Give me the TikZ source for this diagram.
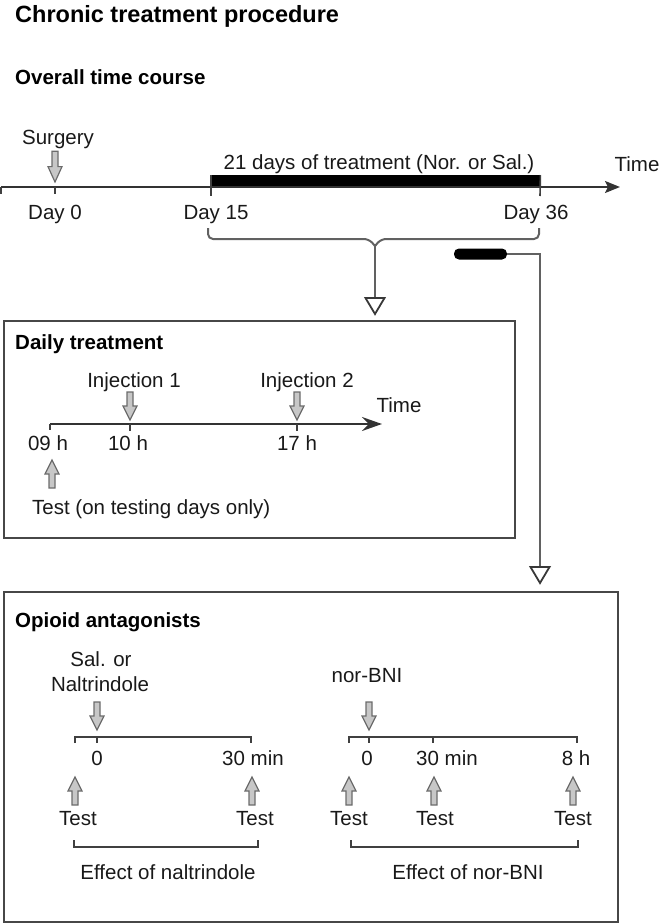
\documentclass[tikz,border=0pt]{standalone}
\usepackage{fontspec}
\setmainfont{Liberation Sans}
\usetikzlibrary{arrows.meta}
\begin{document}
\begin{tikzpicture}[x=1pt,y=-1pt,
  txt/.style={inner sep=0pt, text height=14.7pt, text depth=0pt, font=\fontsize{20.5}{24}\selectfont, text=black!90},
  ttl/.style={txt, font=\fontsize{20.5}{24}\selectfont\bfseries, anchor=west, text=black},
  axis/.style={line width=2pt, draw=black!80},
  tick/.style={line width=1.6pt, draw=black!75},
  frame/.style={line width=2.4pt, draw=black!72, inner sep=0pt, anchor=north west},
  link/.style={line width=2pt, draw=black!62},
  blackbar/.style={fill=black, inner sep=0pt},
  harrow/.pic={\filldraw[draw=black!58, fill=black!22, line width=1.2pt, line join=miter]
     (-3,-28) -- (3,-28) -- (3,-14) -- (7,-14) -- (0,0) -- (-7,-14) -- (-3,-14) -- cycle;},
  tri/.pic={\filldraw[draw=black!78, fill=white, line width=1.8pt, line join=miter]
     (-9.5,-16) -- (9.5,-16) -- (0,0) -- cycle;}
]
\useasboundingbox (0,0) rectangle (670,924);

% ---------- titles ----------
\node[ttl, text height=16.8pt, font=\fontsize{23.5}{27}\selectfont\bfseries] (title) at (15,14) {Chronic treatment procedure};
\node[ttl] (overall) at (15,77) {Overall time course};

% ---------- overall time course ----------
\coordinate (t0) at (1,187);
\coordinate (tend) at (620,187);
\node[blackbar, anchor=north west, minimum width=329pt, minimum height=12pt] (bar) at (211,175) {};
\draw[axis, -{Stealth[length=15pt,width=12pt,inset=3pt]}] (t0) -- (tend);
\draw[tick] (t0) -- ++(0,7);
\coordinate (sx) at (55,187);
\draw[tick] (sx) -- ++(0,7);
\draw[tick] (bar.north west) -- (211,196);
\draw[tick] (bar.north east) -- (540,196);

\node[txt] (surg) at (58,137) {Surgery};
\pic[yscale=1.1] at (55,182) {harrow};
\node[txt] (treat) at (379,162) {21 days of treatment (Nor. or Sal.)};
\node[txt] (time1) at (637,164) {Time};
\node[txt] (d0) at (55,212) {Day 0};
\node[txt] (d15) at (216,212) {Day 15};
\node[txt] (d36) at (536,212) {Day 36};

% brace to daily box
\coordinate (bl) at (208,228);
\coordinate (br) at (539,228);
\coordinate (btip) at (375,246);
\draw[link, rounded corners=5pt] (bl) -- (208,239) -- (369,239) -- (btip);
\draw[link, rounded corners=5pt] (br) -- (539,239) -- (381,239) -- (btip);
\coordinate (tri1) at (375,314);
\coordinate (tri1top) at (375,298);
\draw[link] (btip) -- (tri1top);
\pic at (tri1) {tri};

% small bar to opioid box
\node[blackbar, rounded corners=5pt, minimum width=53pt, minimum height=11pt] (bar2) at (480.5,254) {};
\coordinate (tri2) at (540,583);
\coordinate (tri2top) at (540,567);
\coordinate (corner2) at (540,254);
\draw[link] (bar2.east) -- (corner2) -- (tri2top);
\pic at (tri2) {tri};

% ---------- daily treatment ----------
\node[frame, minimum width=511pt, minimum height=217pt] (daily) at (3,320) {};
\node[ttl] (dtitle) at (15,342) {Daily treatment};
\node[txt] (inj1) at (134,380) {Injection 1};
\node[txt] (inj2) at (307,380) {Injection 2};
\pic at (130,420) {harrow};
\pic at (297,420) {harrow};
\coordinate (h0) at (50,424);
\coordinate (hend) at (382,424);
\draw[axis, -{Stealth[length=20pt,width=14pt,inset=7pt]}] (h0) -- (hend);
\draw[tick] (h0) -- ++(0,6);
\draw[tick] (130,424) -- ++(0,7);
\draw[tick] (297,424) -- ++(0,7);
\node[txt] (time2) at (399,405) {Time};
\node[txt] (h09) at (48,443) {09 h};
\node[txt] (h10) at (128,443) {10 h};
\node[txt] (h17) at (297,443) {17 h};
\pic[rotate=180] at (52,460) {harrow};
\node[txt, anchor=west] (testd) at (32,507) {Test (on testing days only)};

% ---------- opioid antagonists ----------
\node[frame, minimum width=614pt, minimum height=330pt] (opioid) at (3,591) {};
\node[ttl] (otitle) at (15,620) {Opioid antagonists};

% left experiment
\node[txt] (sal) at (101,659) {Sal. or};
\node[txt] (nal) at (100,684) {Naltrindole};
\pic at (97,730) {harrow};
\draw[tick] (75,743) -- (75,737) -- (251,737) -- (251,743);
\draw[tick] (97,737) -- (97,743);
\node[txt] (z1) at (97,758) {0};
\node[txt] (m30a) at (253,758) {30 min};
\pic[rotate=180] at (75,777) {harrow};
\pic[rotate=180] at (252,777) {harrow};
\node[txt] (ta1) at (78,818) {Test};
\node[txt] (ta2) at (255,818) {Test};
\draw[tick] (74,840) -- (74,847) -- (258,847) -- (258,840);
\node[txt] (effn) at (168,872) {Effect of naltrindole};

% right experiment
\node[txt] (nor) at (367,675) {nor-BNI};
\pic at (369,730) {harrow};
\draw[tick] (349,743) -- (349,737) -- (577,737) -- (577,743);
\draw[tick] (369,737) -- (369,743);
\draw[tick] (433,737) -- (433,743);
\node[txt] (z2) at (367,758) {0};
\node[txt] (m30b) at (447,758) {30 min};
\node[txt] (h8) at (576,758) {8 h};
\pic[rotate=180] at (349,777) {harrow};
\pic[rotate=180] at (434,777) {harrow};
\pic[rotate=180] at (573,777) {harrow};
\node[txt] (tb1) at (349,818) {Test};
\node[txt] (tb2) at (435,818) {Test};
\node[txt] (tb3) at (573,818) {Test};
\draw[tick] (351,840) -- (351,847) -- (578,847) -- (578,840);
\node[txt] (effb) at (468,872) {Effect of nor-BNI};

\end{tikzpicture}
\end{document}
